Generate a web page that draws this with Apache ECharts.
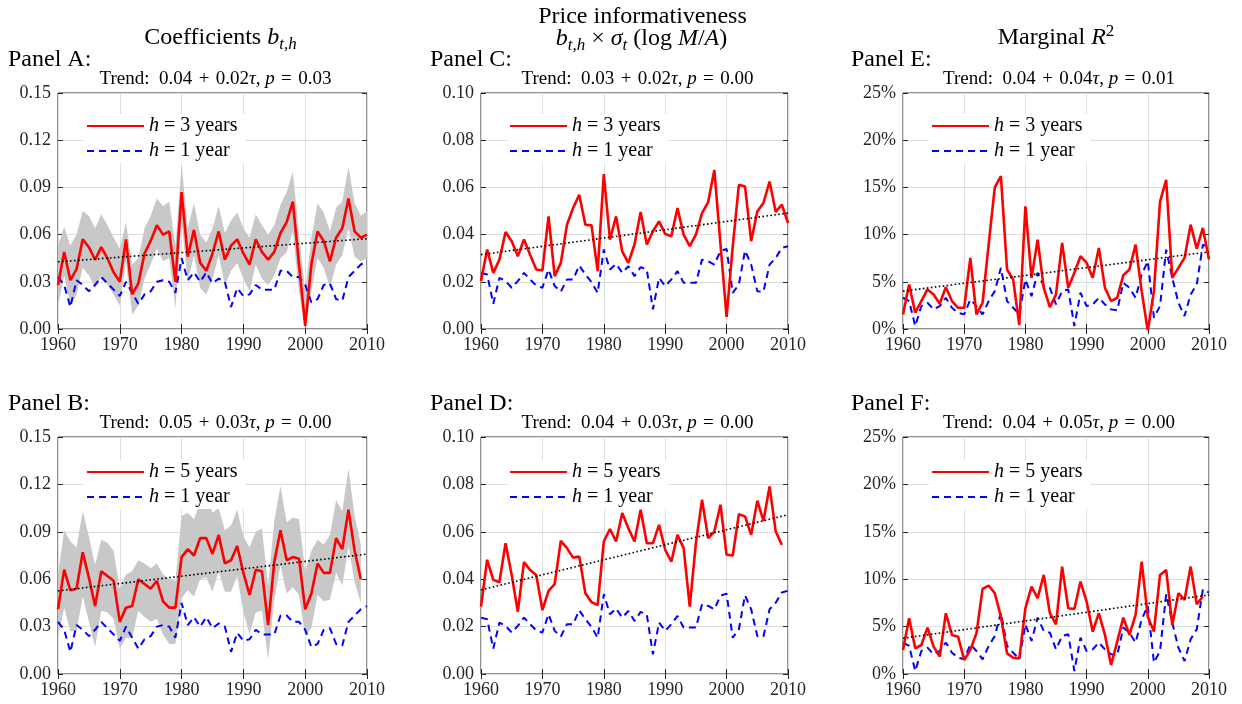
<!DOCTYPE html>
<html>
<head>
<meta charset="utf-8">
<script src="https://cdn.jsdelivr.net/npm/echarts@6/dist/echarts.min.js"></script>
<style>
  html, body { margin: 0; padding: 0; background: #fff; }
  #main { width: 1242px; height: 704px; }
</style>
</head>
<body>
<div id="main"></div>
<script>
// years on the x axis
const years = [];
for (let y = 1960; y <= 2010; y++) years.push(y);

// Panel A: coefficients, h = 3 (with confidence band), h = 1
const redA = [0.028,0.049,0.031,0.038,0.057,0.052,0.044,0.052,0.045,0.036,
  0.030,0.057,0.022,0.029,0.048,0.056,0.066,0.060,0.062,0.030,
  0.087,0.046,0.063,0.042,0.037,0.048,0.062,0.044,0.053,0.057,
  0.048,0.041,0.057,0.049,0.044,0.049,0.061,0.068,0.081,0.041,
  0.002,0.041,0.062,0.056,0.043,0.058,0.064,0.083,0.062,0.058,0.060];
const bandHiA = [0.053,0.065,0.053,0.060,0.075,0.072,0.064,0.073,0.066,0.058,
  0.051,0.068,0.041,0.045,0.064,0.072,0.083,0.078,0.081,0.053,
  0.105,0.064,0.080,0.060,0.055,0.064,0.078,0.061,0.069,0.074,
  0.064,0.058,0.073,0.066,0.060,0.066,0.079,0.087,0.100,0.060,
  0.024,0.058,0.080,0.074,0.062,0.077,0.081,0.103,0.080,0.072,0.075];
const bandLoA = [0.015,0.034,0.015,0.022,0.039,0.034,0.026,0.034,0.028,0.022,
  0.015,0.043,0.009,0.015,0.032,0.041,0.051,0.043,0.045,0.013,
  0.068,0.030,0.047,0.026,0.022,0.032,0.047,0.028,0.037,0.042,
  0.032,0.024,0.041,0.032,0.028,0.034,0.045,0.049,0.062,0.024,
  0.000,0.024,0.045,0.039,0.026,0.041,0.047,0.064,0.046,0.043,0.045];
const blueA = [0.033,0.028,0.014,0.031,0.028,0.024,0.028,0.033,0.029,0.025,
  0.021,0.030,0.023,0.016,0.022,0.024,0.030,0.031,0.030,0.023,
  0.045,0.031,0.036,0.030,0.036,0.029,0.032,0.030,0.014,0.026,
  0.021,0.022,0.028,0.025,0.025,0.025,0.037,0.037,0.033,0.033,
  0.028,0.017,0.019,0.028,0.029,0.019,0.018,0.033,0.037,0.041,0.043];
const trendA = [0.0427, 0.0574];

// Panel B: coefficients, h = 5 (1960-2009)
const redB = [0.041,0.066,0.053,0.054,0.077,0.061,0.043,0.065,0.062,0.059,
  0.033,0.042,0.043,0.060,0.057,0.054,0.059,0.046,0.042,0.042,
  0.074,0.079,0.075,0.086,0.086,0.076,0.088,0.070,0.072,0.081,
  0.064,0.050,0.066,0.065,0.031,0.071,0.091,0.072,0.074,0.073,
  0.041,0.051,0.070,0.064,0.064,0.086,0.079,0.104,0.078,0.060];
const bandHiB = [0.063,0.091,0.084,0.080,0.103,0.087,0.069,0.085,0.083,0.078,
  0.054,0.063,0.065,0.072,0.070,0.067,0.070,0.063,0.060,0.059,
  0.100,0.102,0.098,0.109,0.114,0.102,0.105,0.091,0.094,0.104,
  0.087,0.080,0.090,0.092,0.056,0.097,0.119,0.096,0.099,0.098,
  0.065,0.078,0.085,0.082,0.088,0.110,0.103,0.130,0.100,0.082];
const bandLoB = [0.023,0.042,0.027,0.027,0.049,0.033,0.017,0.040,0.039,0.035,
  0.016,0.023,0.023,0.040,0.036,0.033,0.035,0.025,0.019,0.019,
  0.048,0.053,0.049,0.060,0.061,0.052,0.065,0.052,0.052,0.062,
  0.039,0.025,0.039,0.040,0.009,0.047,0.069,0.051,0.055,0.050,
  0.024,0.029,0.050,0.046,0.047,0.064,0.056,0.081,0.058,0.045];
const trendB = [0.0526, 0.0759];

// Panel C / D: price informativeness
const redC = [0.0203,0.0337,0.0238,0.0294,0.0411,0.0372,0.0308,0.0379,0.0315,0.0252,
  0.0248,0.0477,0.0224,0.0280,0.0442,0.0513,0.0569,0.0442,0.0439,0.0245,
  0.0656,0.0379,0.0477,0.0329,0.0280,0.0358,0.0496,0.0358,0.0414,0.0456,
  0.0403,0.0393,0.0513,0.0400,0.0351,0.0400,0.0491,0.0538,0.0674,0.0360,
  0.0051,0.0350,0.0611,0.0604,0.0372,0.0498,0.0534,0.0625,0.0496,0.0527,0.0449];
const blueC = [0.0238,0.0231,0.0107,0.0217,0.0203,0.0175,0.0203,0.0238,0.0210,0.0184,
  0.0175,0.0252,0.0182,0.0158,0.0210,0.0210,0.0269,0.0231,0.0199,0.0153,
  0.0337,0.0252,0.0276,0.0238,0.0266,0.0224,0.0262,0.0252,0.0083,0.0217,
  0.0182,0.0210,0.0245,0.0196,0.0196,0.0196,0.0294,0.0287,0.0273,0.0330,
  0.0339,0.0153,0.0189,0.0332,0.0273,0.0160,0.0158,0.0273,0.0301,0.0344,0.0351];
const trendC = [0.0315, 0.0491];
const redD = [0.0284,0.0482,0.0397,0.0387,0.0552,0.0418,0.0263,0.0472,0.0439,0.0418,
  0.0270,0.0351,0.0379,0.0562,0.0531,0.0491,0.0496,0.0341,0.0303,0.0291,
  0.0559,0.0612,0.0559,0.0679,0.0615,0.0559,0.0693,0.0552,0.0552,0.0629,
  0.0524,0.0474,0.0587,0.0531,0.0284,0.0552,0.0735,0.0573,0.0601,0.0714,
  0.0503,0.0500,0.0674,0.0665,0.0587,0.0731,0.0646,0.0791,0.0601,0.0545];
const trendD = [0.0355, 0.0672];

// Panel E / F: marginal R^2 (percent)
const redE = [1.55,4.72,1.72,2.96,4.19,3.66,2.68,4.44,2.96,2.25,
  2.25,7.53,1.55,2.78,9.0,15.0,16.2,6.30,5.24,0.42,
  13.0,5.42,9.47,4.36,2.32,3.66,9.12,4.36,5.95,7.71,
  7.00,5.42,8.59,4.36,2.96,3.31,5.70,6.30,8.94,4.01,
  -0.2,4.01,13.5,15.8,5.42,6.48,7.53,11.05,8.52,10.7,7.36];
const blueE = [3.31,2.96,0.32,2.43,2.78,2.08,2.43,3.31,2.25,1.72,
  1.55,3.13,2.43,1.55,2.96,4.01,6.48,2.96,2.25,1.55,
  5.24,3.48,5.95,4.54,4.36,2.60,4.01,4.19,0.32,3.84,
  2.43,2.60,3.31,2.60,2.08,1.97,4.89,4.36,3.31,5.77,
  7.18,1.20,2.43,8.41,5.42,2.78,1.37,3.66,4.72,8.94,8.59];
const trendE = [4.01, 8.17];
const redF = [2.54,5.88,2.71,3.06,4.89,2.89,1.83,6.41,4.12,3.94,
  1.48,2.54,4.29,8.98,9.33,8.52,6.05,2.18,1.72,1.65,
  6.93,9.22,7.99,10.45,6.41,5.24,11.33,6.93,6.86,9.75,
  7.64,4.47,6.41,4.12,0.95,3.41,5.95,4.12,6.23,11.86,
  6.05,4.47,10.45,10.98,5.17,8.52,7.81,11.33,7.36,8.17];
const trendF = [3.77, 8.34];

// trend text: intercept, slope, p-value
const coefA = ['0.04', '0.02', '0.03'];
const coefB = ['0.05', '0.03', '0.00'];
const coefC = ['0.03', '0.02', '0.00'];
const coefD = ['0.04', '0.03', '0.00'];
const coefE = ['0.04', '0.04', '0.01'];
const coefF = ['0.04', '0.05', '0.00'];

const panels = [
  {label: 'Panel A:', col: 0, row: 0, red: redA, blue: blueA, lo: bandLoA, hi: bandHiA, trend: trendA, coef: coefA, h: 'h = 3 years', max: 0.15, step: 0.03},
  {label: 'Panel B:', col: 0, row: 1, red: redB, blue: blueA, lo: bandLoB, hi: bandHiB, trend: trendB, coef: coefB, h: 'h = 5 years', max: 0.15, step: 0.03},
  {label: 'Panel C:', col: 1, row: 0, red: redC, blue: blueC, trend: trendC, coef: coefC, h: 'h = 3 years', max: 0.10, step: 0.02},
  {label: 'Panel D:', col: 1, row: 1, red: redD, blue: blueC, trend: trendD, coef: coefD, h: 'h = 5 years', max: 0.10, step: 0.02},
  {label: 'Panel E:', col: 2, row: 0, red: redE, blue: blueE, trend: trendE, coef: coefE, h: 'h = 3 years', max: 25, step: 5, pct: true},
  {label: 'Panel F:', col: 2, row: 1, red: redF, blue: blueE, trend: trendF, coef: coefF, h: 'h = 5 years', max: 25, step: 5, pct: true}
];

// layout
const cols = [{left: 58, width: 309, labelX: 8}, {left: 481, width: 307, labelX: 430}, {left: 903, width: 306, labelX: 851}];
const rows = [{top: 93, height: 236, legendTop: 21}, {top: 437, height: 237, legendTop: 23}];
const SERIF = '"Liberation Serif", "Times New Roman", serif';
const INK = '#262626';
const BAND = '#c8c8c8';
const GAP = '\u2004'; // a little wider than a normal space, like TeX math spacing

const pair = (vals) => vals.map((v, k) => [years[k], v]);

const grid = [], xAxis = [], yAxis = [], series = [], legend = [], graphic = [];

const richMath = (size) => ({
  i: {font: 'italic ' + size + 'px ' + SERIF},
  s: {font: 'italic ' + Math.round(size * 0.7) + 'px ' + SERIF, verticalAlign: 'bottom', lineHeight: 16},
  u: {font: Math.round(size * 0.7) + 'px ' + SERIF, verticalAlign: 'top', lineHeight: 16}
});

function textEl(x, y, text, size, align) {
  return {
    type: 'text', x: x, y: y, silent: true,
    style: {
      text: text, font: size + 'px ' + SERIF, fill: '#000',
      align: align, verticalAlign: 'middle', textAlign: align, textVerticalAlign: 'middle',
      lineHeight: 30, rich: richMath(size)
    }
  };
}

panels.forEach((p, i) => {
  const c = cols[p.col], r = rows[p.row];
  grid.push({left: c.left, top: r.top, width: c.width, height: r.height, show: true,
    borderColor: INK, borderWidth: 1, backgroundColor: 'transparent', containLabel: false, outerBoundsMode: 'none'});

  const labelFmt = p.pct ? (v) => Math.round(v) + '%' : (v) => v.toFixed(2);
  xAxis.push({type: 'value', gridIndex: i, min: 1960, max: 2010, interval: 10,
    axisLine: {show: false}, axisTick: {inside: true, length: 5, lineStyle: {color: INK}},
    axisLabel: {color: INK, fontFamily: SERIF, fontSize: 18, margin: 7, formatter: (v) => String(v)},
    splitLine: {show: true, lineStyle: {color: '#dedede', width: 1}}});
  xAxis.push({type: 'value', gridIndex: i, position: 'top', min: 1960, max: 2010, interval: 10,
    axisLine: {show: false}, axisTick: {inside: true, length: 5, lineStyle: {color: INK}},
    axisLabel: {show: false}, splitLine: {show: false}});
  yAxis.push({type: 'value', gridIndex: i, min: 0, max: p.max, interval: p.step,
    axisLine: {show: false}, axisTick: {inside: true, length: 5, lineStyle: {color: INK}},
    axisLabel: {color: INK, fontFamily: SERIF, fontSize: 18, margin: 7, formatter: labelFmt},
    splitLine: {show: true, lineStyle: {color: '#dedede', width: 1}}});
  yAxis.push({type: 'value', gridIndex: i, position: 'right', min: 0, max: p.max, interval: p.step,
    axisLine: {show: false}, axisTick: {inside: true, length: 5, lineStyle: {color: INK}},
    axisLabel: {show: false}, splitLine: {show: false}});

  const xi = i * 2, yi = i * 2;
  const base = {type: 'line', xAxisIndex: xi, yAxisIndex: yi, symbol: 'none', animation: false, silent: true};

  if (p.lo) {
    // shaded confidence band: one polygon through the upper then the lower bound
    const bandData = p.lo.map((v, k) => [years[k], v, p.hi[k]]);
    series.push({type: 'custom', name: 'band-' + i, xAxisIndex: xi, yAxisIndex: yi, silent: true,
      clip: true, animation: false, data: bandData, encode: {x: 0, y: [1, 2]},
      renderItem: (params, api) => {
        if (params.dataIndex !== 0) return null;
        const upper = bandData.map((d) => api.coord([d[0], d[2]]));
        const lower = bandData.map((d) => api.coord([d[0], d[1]])).reverse();
        return {type: 'polygon', shape: {points: upper.concat(lower)}, style: {fill: BAND}};
      }});
  }
  series.push(Object.assign({}, base, {name: 'h = 1 year', data: pair(p.blue),
    itemStyle: {color: '#0000ff'}, lineStyle: {color: '#0000ff', width: 2, type: [7, 5]}}));
  series.push(Object.assign({}, base, {name: p.h, data: pair(p.red),
    itemStyle: {color: '#ff0000'}, lineStyle: {color: '#ff0000', width: 2.6}}));
  series.push(Object.assign({}, base, {name: 'trend-' + i, data: [[1960, p.trend[0]], [2010, p.trend[1]]],
    itemStyle: {color: '#000'}, lineStyle: {color: '#000', width: 1.6, type: [1.6, 2.4]}}));

  legend.push({data: [p.h, 'h = 1 year'], orient: 'vertical', left: c.left + 26, top: r.top + r.legendTop,
    itemWidth: 57, itemHeight: 18, itemGap: 5, padding: [2, 8, 2, 2], backgroundColor: '#fff',
    selectedMode: false, itemStyle: {opacity: 0},
    textStyle: {fontFamily: SERIF, fontSize: 20, color: '#000', lineHeight: 19,
      rich: {i: {fontFamily: SERIF, fontSize: 20, fontStyle: 'italic', color: '#000'}}},
    formatter: (name) => name.replace(/^h/, '{i|h}')});

  const dy = r.top - rows[0].top;
  graphic.push(textEl(c.labelX, 60 + dy, p.label, 24, 'left'));
  graphic.push(textEl(c.left + c.width / 2 + 3, 79 + dy,
    'Trend:  ' + p.coef[0] + GAP + '+' + GAP + p.coef[1] + '{i|τ}, {i|p}' + GAP + '=' + GAP + p.coef[2], 19, 'center'));
});

// column headings
graphic.push(textEl(cols[0].left + cols[0].width / 2 + 8, 38, 'Coefficients {i|b}{s|t,h}', 24, 'center'));
graphic.push(textEl(cols[1].left + cols[1].width / 2 + 8, 17, 'Price informativeness', 24, 'center'));
graphic.push(textEl(cols[1].left + cols[1].width / 2 + 7, 39, '{i|b}{s|t,h} × {i|σ}{s|t} (log {i|M}/{i|A})', 24, 'center'));
graphic.push(textEl(cols[2].left + cols[2].width / 2, 38, 'Marginal {i|R}{u|2}', 24, 'center'));

const chart = echarts.init(document.getElementById('main'), null, {renderer: 'canvas'});
chart.setOption({
  animation: false,
  backgroundColor: '#fff',
  textStyle: {fontFamily: SERIF},
  grid: grid,
  xAxis: xAxis,
  yAxis: yAxis,
  legend: legend,
  series: series,
  graphic: graphic
});
</script>
</body>
</html>
